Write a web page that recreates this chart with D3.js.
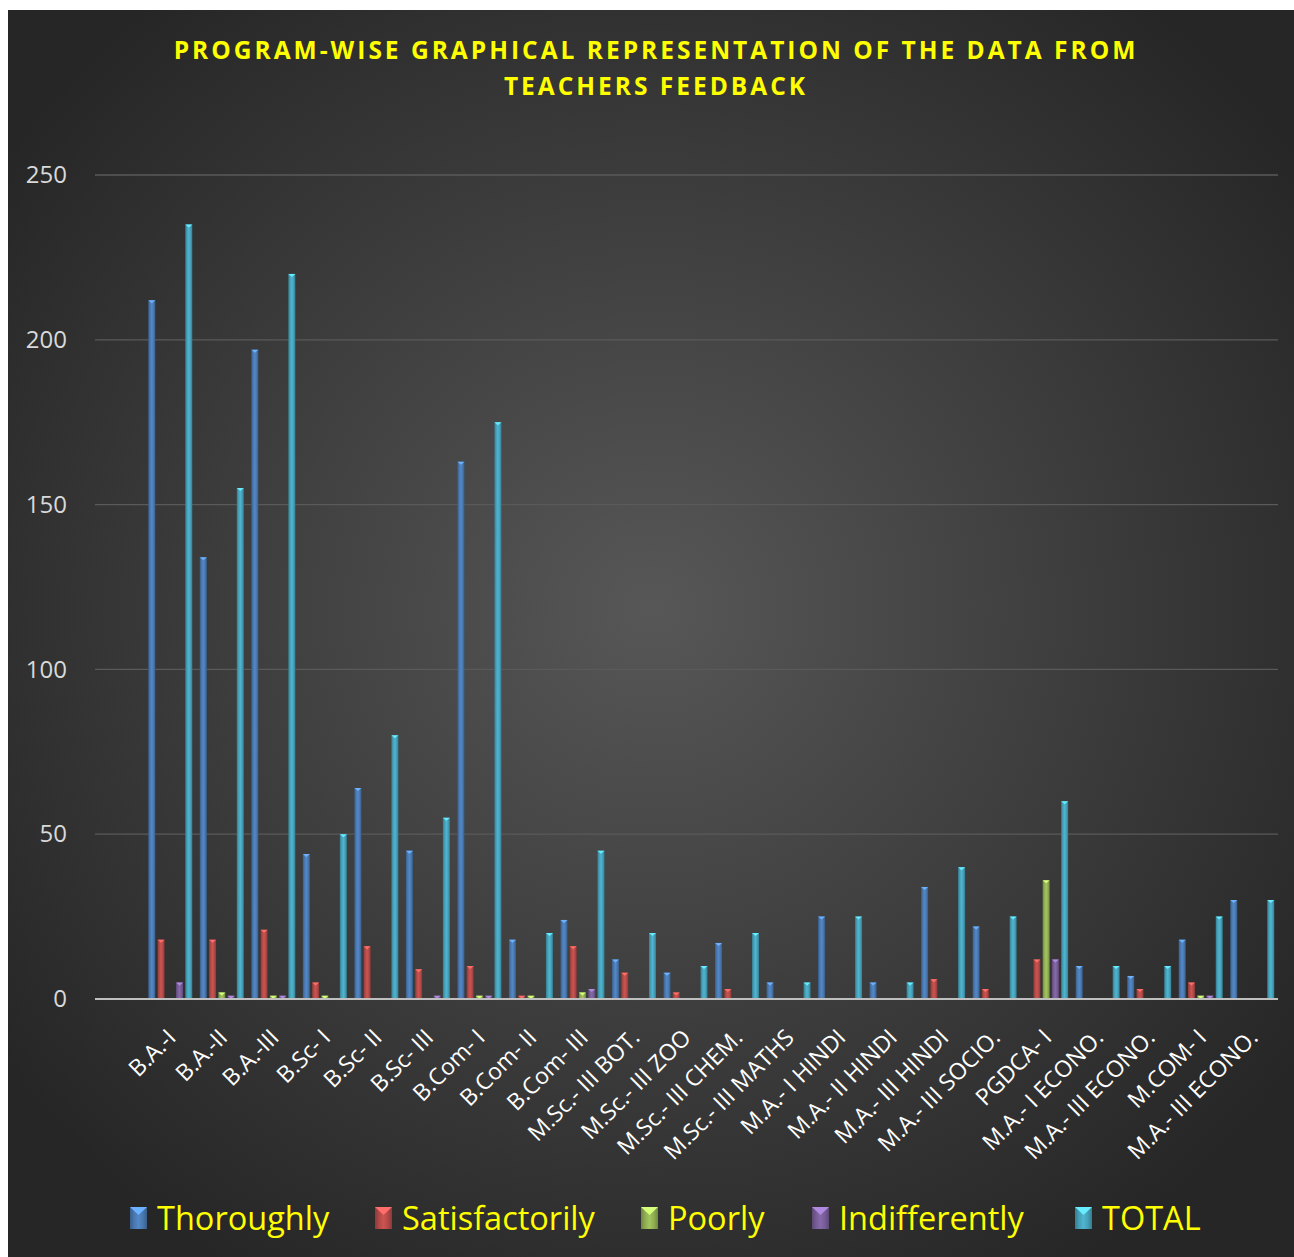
<!DOCTYPE html>
<html>
<head>
<meta charset="utf-8">
<script src="https://cdn.jsdelivr.net/npm/d3@7"></script>
<style>
  html, body { margin: 0; padding: 0; background: #ffffff; }
  svg { display: block; }
</style>
</head>
<body>
<script>
'use strict';

// programs on the category axis
const categories = ['B.A.-I', 'B.A.-II', 'B.A.-III', 'B.Sc- I', 'B.Sc- II', 'B.Sc- III',
  'B.Com- I', 'B.Com- II', 'B.Com- III', 'M.Sc.- III  BOT.', 'M.Sc.- III ZOO',
  'M.Sc.- III CHEM.', 'M.Sc.- III MATHS', 'M.A.- I HINDI', 'M.A.- II HINDI',
  'M.A.- III HINDI', 'M.A.- III SOCIO.', 'PGDCA- I', 'M.A.- I ECONO.',
  'M.A.- III ECONO.', 'M.COM- I', 'M.A.- III ECONO.'];

const seriesNames = ['Thoroughly', 'Satisfactorily', 'Poorly', 'Indifferently', 'TOTAL'];

const thoroughly     = [212, 134, 197, 44, 64, 45, 163, 18, 24, 12, 8, 17, 5, 25, 5, 34, 22, 0, 10, 7, 18, 30];
const satisfactorily = [18, 18, 21, 5, 16, 9, 10, 1, 16, 8, 2, 3, 0, 0, 0, 6, 3, 12, 0, 3, 5, 0];
const poorly         = [0, 2, 1, 1, 0, 0, 1, 1, 2, 0, 0, 0, 0, 0, 0, 0, 0, 36, 0, 0, 1, 0];
const indifferently  = [5, 1, 1, 0, 0, 1, 1, 0, 3, 0, 0, 0, 0, 0, 0, 0, 0, 12, 0, 0, 1, 0];
const total          = [235, 155, 220, 50, 80, 55, 175, 20, 45, 20, 10, 20, 5, 25, 5, 40, 25, 60, 10, 10, 25, 30];

const yTicks = [0, 50, 100, 150, 200, 250];

(function() {

  const width = 1294;
  const height = 1257;
  const colors = ['#4F81BD', '#C0504D', '#9BBB59', '#8064A2', '#4BACC6'];
  const values = [thoroughly, satisfactorily, poorly, indifferently, total];

  let svg = '';

  window.onload = function() {
    svg = d3.select('body')
      .append('svg')
      .attr('width', width)
      .attr('height', height);

    makeDefs();
    makeBackground();
    let scales = drawAxes();
    plotBars(scales);
    makeTitle();
    makeLegend();
  };

  // gradients for background and bevelled bars
  function makeDefs() {
    let defs = svg.append('defs');

    let bg = defs.append('radialGradient')
      .attr('id', 'bg')
      .attr('cx', '50%').attr('cy', '48%').attr('r', '62%');
    bg.append('stop').attr('offset', '0%').attr('stop-color', '#575757');
    bg.append('stop').attr('offset', '100%').attr('stop-color', '#262626');

    colors.forEach(function(c, i) {
      let g = defs.append('linearGradient')
        .attr('id', 'bar' + i)
        .attr('x1', '0%').attr('x2', '100%').attr('y1', '0%').attr('y2', '0%');
      let base = d3.color(c);
      g.append('stop').attr('offset', '0%').attr('stop-color', base.darker(0.9));
      g.append('stop').attr('offset', '25%').attr('stop-color', base.darker(0.2));
      g.append('stop').attr('offset', '50%').attr('stop-color', base.brighter(0.15));
      g.append('stop').attr('offset', '75%').attr('stop-color', base.darker(0.2));
      g.append('stop').attr('offset', '100%').attr('stop-color', base.darker(0.9));
    });
  }

  function makeBackground() {
    svg.append('rect')
      .attr('x', 8)
      .attr('y', 10)
      .attr('width', width - 8)
      .attr('height', height - 10)
      .attr('fill', 'url(#bg)');
  }

  // draw the axes, gridlines and tick labels
  function drawAxes() {
    // first slot of the category axis is left blank, as in the original sheet
    let xScale = d3.scaleBand()
      .domain([''].concat(categories.map((d, i) => i)))
      .range([93, 1278]);

    let yScale = d3.scaleLinear()
      .domain([0, 250])
      .range([999, 175]);

    // horizontal gridlines
    svg.append('g')
      .selectAll('line')
      .data(yTicks.filter(d => d > 0))
      .enter()
      .append('line')
        .attr('x1', 95)
        .attr('x2', 1278)
        .attr('y1', d => yScale(d))
        .attr('y2', d => yScale(d))
        .attr('stroke', '#5a5a5a')
        .attr('stroke-width', 1.3);

    // y axis labels
    let yAxis = d3.axisLeft(yScale).tickValues(yTicks).tickSize(0).tickPadding(0);
    let gy = svg.append('g')
      .attr('transform', 'translate(67, 0)')
      .call(yAxis);
    gy.select('.domain').remove();
    gy.selectAll('text')
      .attr('fill', '#d9d9d9')
      .style('font', '24px "Open Sans", sans-serif');

    // category labels, rotated
    let xAxis = d3.axisBottom(xScale)
      .tickValues(categories.map((d, i) => i))
      .tickFormat(i => categories[i])
      .tickSize(0)
      .tickPadding(0);
    let gx = svg.append('g')
      .attr('transform', 'translate(0, 999)')
      .call(xAxis);
    gx.select('.domain').remove();
    gx.selectAll('text')
      .attr('fill', '#ffffff')
      .attr('text-anchor', 'end')
      .attr('dy', 0)
      .attr('transform', 'translate(7, 40) rotate(-45)')
      .style('font', '23px "Open Sans", sans-serif');

    return { x: xScale, y: yScale };
  }

  // clustered bars, five per program
  function plotBars(s) {
    let slot = 9.25;
    let barW = 7;

    values.forEach(function(series, k) {
      let g = svg.append('g');
      let bars = g.selectAll('g')
        .data(series.map((v, i) => ({ i: i, v: v })).filter(d => d.v > 0))
        .enter()
        .append('g')
          .attr('transform', d => {
            let cx = s.x(d.i) + s.x.bandwidth() / 2 + (k - 2) * slot;
            return 'translate(' + (cx - barW / 2) + ',0)';
          });

      bars.append('rect')
        .attr('x', 0)
        .attr('y', d => s.y(d.v))
        .attr('width', barW)
        .attr('height', d => s.y(0) - s.y(d.v))
        .attr('fill', 'url(#bar' + k + ')');

      // small light cap on top of each bar
      bars.append('path')
        .attr('d', d => {
          let y0 = s.y(d.v);
          return 'M0,' + y0 + 'L' + barW + ',' + y0 + 'L' + (barW / 2) + ',' + (y0 + 3) + 'Z';
        })
        .attr('fill', d3.color(colors[k]).brighter(0.9));
    });

    // category axis line
    svg.append('line')
      .attr('x1', 95)
      .attr('x2', 1278)
      .attr('y1', s.y(0))
      .attr('y2', s.y(0))
      .attr('stroke', '#bfbfbf')
      .attr('stroke-width', 2);
  }

  function makeTitle() {
    let lines = ['PROGRAM-WISE GRAPHICAL REPRESENTATION OF THE DATA FROM', 'TEACHERS FEEDBACK'];
    svg.append('g')
      .selectAll('text')
      .data(lines)
      .enter()
      .append('text')
        .attr('x', 656)
        .attr('y', (d, i) => 59 + i * 36)
        .attr('text-anchor', 'middle')
        .attr('fill', '#ffff00')
        .style('font', 'bold 24.5px "Open Sans", sans-serif')
        .style('letter-spacing', '3px')
        .text(d => d);
  }

  function makeLegend() {
    let xs = [130, 375, 641, 812, 1075];
    let legend = svg.append('g');
    let items = legend.selectAll('g')
      .data(seriesNames)
      .enter()
      .append('g')
        .attr('transform', (d, i) => 'translate(' + xs[i] + ', 1207)');

    items.append('rect')
      .attr('width', 17)
      .attr('height', 22)
      .attr('fill', (d, i) => 'url(#bar' + i + ')');
    items.append('path')
      .attr('d', 'M0,0L17,0L8.5,8Z')
      .attr('fill', (d, i) => d3.color(colors[i]).brighter(0.9));

    items.append('text')
      .attr('x', 27)
      .attr('y', 23)
      .attr('fill', '#ffff00')
      .style('font', '32.5px "Open Sans", sans-serif')
      .text(d => d);
  }

})();
</script>
</body>
</html>
